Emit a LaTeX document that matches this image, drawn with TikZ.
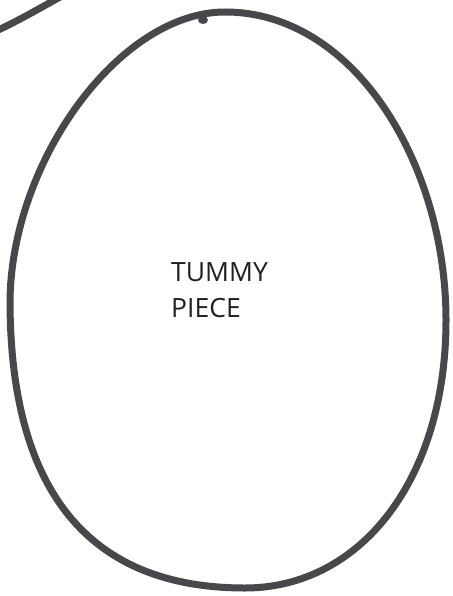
\documentclass[tikz,border=0pt]{standalone}
\usepackage{fontspec}
\setmainfont{Open Sans}
\definecolor{ink}{HTML}{48474B}
\definecolor{txt}{HTML}{231F20}
\begin{document}
\begin{tikzpicture}[x=1pt,y=-1pt,
  pen/.style={draw=ink,line width=7pt,line cap=round,line join=round},
  label/.style={font=\fontsize{26.5}{36}\selectfont,text=txt,align=left,inner sep=0pt,anchor=north west}]
\useasboundingbox (0,0) rectangle (452,596);
\begin{scope}
\clip (0,0) rectangle (452,596);
% top-left fragment
\draw[pen] (-6,32) .. controls (20,20) and (40,8) .. (62,-4);
% egg outline
\draw[pen] (225,12) .. controls (355,12) and (446,165) .. (446,320)
  .. controls (446,480) and (360,588) .. (245,588)
  .. controls (80,588) and (10,480) .. (10,300)
  .. controls (12,160) and (120,12) .. (225,12) -- cycle;
% small notch at top
\fill[ink] (203,20) ellipse (5pt and 4pt);
\end{scope}
\node[label] (tummy) at (171,262) {TUMMY\\PIECE};
\end{tikzpicture}
\end{document}
